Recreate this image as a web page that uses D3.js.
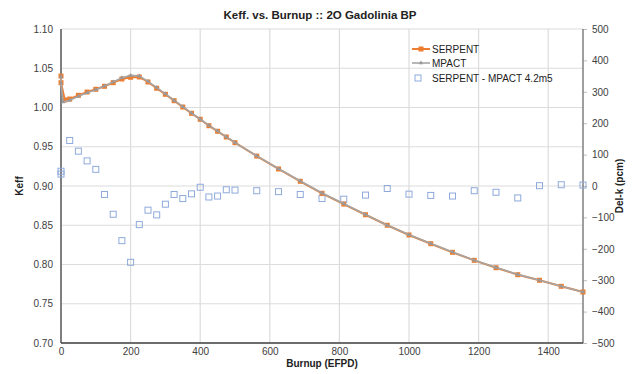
<!DOCTYPE html>
<html>
<head>
<meta charset="utf-8">
<script src="https://cdn.jsdelivr.net/npm/d3@7"></script>
<style>
body { margin: 0; background: #fff; }
svg { font-family: "Liberation Sans", Arial, sans-serif; }
</style>
</head>
<body>
<script>
// SERPENT keff vs burnup
var serpentX = [0, 0, 11, 25, 50, 75, 100, 125, 150, 175, 200, 225, 250, 275, 300, 325, 350, 375, 400, 425, 450, 475, 500,
    562.5, 625, 687.5, 750, 812.5, 875, 937.5, 1000, 1062.5, 1125, 1187.5, 1250, 1312.5, 1375, 1437.5, 1500];
var serpentK = [1.0400, 1.0316, 1.0096, 1.0108, 1.0155, 1.0197, 1.0232, 1.0270, 1.0316, 1.0363, 1.0385, 1.0389, 1.0325, 1.0245, 1.0168, 1.0087, 1.0006, 0.9926, 0.9850, 0.9768, 0.9697, 0.9624, 0.9552,
    0.9381, 0.9217, 0.9060, 0.8907, 0.8770, 0.8634, 0.8500, 0.8376, 0.8265, 0.8155, 0.8053, 0.7959, 0.7870, 0.7799, 0.7722, 0.7650];
// MPACT keff vs burnup
var mpactX = [0, 0, 6, 25, 50, 75, 100, 125, 150, 175, 200, 225, 250, 275, 300, 325, 350, 375, 400, 425, 450, 475, 500,
    562.5, 625, 687.5, 750, 812.5, 875, 937.5, 1000, 1062.5, 1125, 1187.5, 1250, 1312.5, 1375, 1437.5, 1500];
var mpactK = [1.0395, 1.0312, 1.0070, 1.0093, 1.0144, 1.0189, 1.0227, 1.0273, 1.0325, 1.0380, 1.0409, 1.0401, 1.0333, 1.0254, 1.0174, 1.0090, 1.0010, 0.9929, 0.9850, 0.9772, 0.9700, 0.9625, 0.9553,
    0.9383, 0.9219, 0.9063, 0.8911, 0.8774, 0.8637, 0.8501, 0.8379, 0.8268, 0.8158, 0.8055, 0.7961, 0.7874, 0.7799, 0.7722, 0.7650];
// SERPENT - MPACT (pcm)
var deltaX = [0, 0, 25, 50, 75, 100, 125, 150, 175, 200, 225, 250, 275, 300, 325, 350, 375, 400, 425, 450, 475, 500,
    562.5, 625, 687.5, 750, 812.5, 875, 937.5, 1000, 1062.5, 1125, 1187.5, 1250, 1312.5, 1375, 1437.5, 1500];
var deltaPcm = [47, 38, 145, 111, 80, 53, -27, -90, -174, -243, -123, -77, -92, -58, -27, -40, -25, -4, -35, -32, -12, -13,
    -15, -18, -27, -40, -42, -29, -8, -26, -30, -32, -15, -20, -38, 1, 4, 3];

var xTicks = [0, 200, 400, 600, 800, 1000, 1200, 1400];
var keffTicks = [0.70, 0.75, 0.80, 0.85, 0.90, 0.95, 1.00, 1.05, 1.10];
var pcmTicks = [-500, -400, -300, -200, -100, 0, 100, 200, 300, 400, 500];
var legendNames = ["SERPENT", "MPACT", "SERPENT - MPACT 4.2m5"];

var margin = {top: 29, right: 56, bottom: 31, left: 61},
    width = 639 - margin.left - margin.right,
    height = 374 - margin.top - margin.bottom;

var svg = d3.select("body").append("svg")
    .attr("width", 639).attr("height", 374);
var g = svg.append("g")
    .attr("transform", "translate(" + margin.left + "," + margin.top + ")");

var x = d3.scaleLinear().domain([0, 1500]).range([0, width]);
var yL = d3.scaleLinear().domain([0.70, 1.10]).range([height, 0]);
var yR = d3.scaleLinear().domain([-500, 500]).range([height, 0]);

// grid
g.selectAll(".hgrid").data(keffTicks).enter().append("line")
    .attr("x1", 0).attr("x2", width)
    .attr("y1", function(d) { return yL(d); }).attr("y2", function(d) { return yL(d); })
    .attr("stroke", "#dcdcdc").attr("stroke-width", 1.2);
g.selectAll(".vgrid").data(xTicks).enter().append("line")
    .attr("y1", 0).attr("y2", height)
    .attr("x1", function(d) { return x(d); }).attr("x2", function(d) { return x(d); })
    .attr("stroke", "#dcdcdc").attr("stroke-width", 1.2);

// axes
var xAxis = g.append("g").attr("transform", "translate(0," + height + ")")
    .call(d3.axisBottom(x).tickValues(xTicks).tickFormat(d3.format("d")).tickSize(0).tickPadding(5));
var lAxis = g.append("g")
    .call(d3.axisLeft(yL).tickValues(keffTicks).tickFormat(d3.format(".2f")).tickSize(0).tickPadding(8));
var rAxis = g.append("g").attr("transform", "translate(" + width + ",0)")
    .call(d3.axisRight(yR).tickValues(pcmTicks).tickSize(4).tickPadding(5));
[xAxis, lAxis, rAxis].forEach(function(a) {
    a.selectAll("text").attr("font-size", 10).attr("fill", "#404040")
        .attr("font-family", "Liberation Sans, Arial, sans-serif");
    a.select(".domain").remove();
});
rAxis.selectAll(".tick line").attr("stroke", "#bfbfbf");

g.append("line").attr("x1", 0).attr("x2", 0).attr("y1", 0).attr("y2", height)
    .attr("stroke", "#7f7f7f").attr("stroke-width", 2);
g.append("line").attr("x1", width).attr("x2", width).attr("y1", 0).attr("y2", height)
    .attr("stroke", "#7f7f7f").attr("stroke-width", 1.5);
g.append("line").attr("x1", 0).attr("x2", width).attr("y1", height).attr("y2", height)
    .attr("stroke", "#404040").attr("stroke-width", 1.5);

// delta squares
g.selectAll(".dsq").data(deltaX).enter().append("rect")
    .attr("x", function(d) { return x(d) - 3; })
    .attr("y", function(d, i) { return yR(deltaPcm[i]) - 3; })
    .attr("width", 6).attr("height", 6)
    .attr("fill", "none").attr("stroke", "#8eaadb").attr("stroke-width", 1);

// SERPENT
var serp = serpentX.map(function(d, i) { return [d, serpentK[i]]; });
var mp = mpactX.map(function(d, i) { return [d, mpactK[i]]; });
var line = d3.line().x(function(d) { return x(d[0]); }).y(function(d) { return yL(d[1]); });

g.append("path").datum(serp).attr("d", line)
    .attr("fill", "none").attr("stroke", "#ed7d31").attr("stroke-width", 2);
g.selectAll(".smk").data(serp).enter().append("rect")
    .attr("x", function(d) { return x(d[0]) - 2.5; })
    .attr("y", function(d) { return yL(d[1]) - 2.5; })
    .attr("width", 5).attr("height", 5).attr("fill", "#ed7d31");

// MPACT
g.append("path").datum(mp).attr("d", line)
    .attr("fill", "none").attr("stroke", "#a5a5a5").attr("stroke-width", 1.6);
var tri = d3.symbol().type(d3.symbolTriangle).size(8);
g.selectAll(".mmk").data(mp).enter().append("path")
    .attr("d", tri)
    .attr("transform", function(d) { return "translate(" + x(d[0]) + "," + yL(d[1]) + ")"; })
    .attr("fill", "#999");

// titles
svg.append("text").attr("x", 320).attr("y", 19).attr("text-anchor", "middle")
    .attr("font-size", 11.5).attr("font-weight", "bold").attr("fill", "#222")
    .text("Keff. vs. Burnup :: 2O Gadolinia BP");
svg.append("text").attr("x", margin.left + width / 2).attr("y", 367).attr("text-anchor", "middle")
    .attr("font-size", 10).attr("font-weight", "bold").attr("fill", "#222")
    .text("Burnup (EFPD)");
svg.append("text").attr("transform", "translate(23,186) rotate(-90)").attr("text-anchor", "middle")
    .attr("font-size", 10).attr("font-weight", "bold").attr("fill", "#222")
    .text("Keff");
svg.append("text").attr("transform", "translate(623,186) rotate(-90)").attr("text-anchor", "middle")
    .attr("font-size", 10).attr("font-weight", "bold").attr("fill", "#222")
    .text("Del-k (pcm)");

// legend
var leg = svg.append("g").attr("transform", "translate(412,49)");
leg.append("line").attr("x1", 0).attr("x2", 18).attr("y1", 0).attr("y2", 0)
    .attr("stroke", "#ed7d31").attr("stroke-width", 2);
leg.append("rect").attr("x", 6.5).attr("y", -2.5).attr("width", 5).attr("height", 5).attr("fill", "#ed7d31");
leg.append("line").attr("x1", 0).attr("x2", 18).attr("y1", 14).attr("y2", 14)
    .attr("stroke", "#a5a5a5").attr("stroke-width", 1.6);
leg.append("path").attr("d", tri).attr("transform", "translate(9,14)").attr("fill", "#999");
leg.append("rect").attr("x", 3).attr("y", 26).attr("width", 6).attr("height", 6)
    .attr("fill", "none").attr("stroke", "#8eaadb");
leg.selectAll(".lt").data(legendNames).enter().append("text")
    .attr("x", 20).attr("y", function(d, i) { return i * 14.5 + 3.5; })
    .attr("font-size", 10).attr("fill", "#222")
    .text(function(d) { return d; });
</script>
</body>
</html>
